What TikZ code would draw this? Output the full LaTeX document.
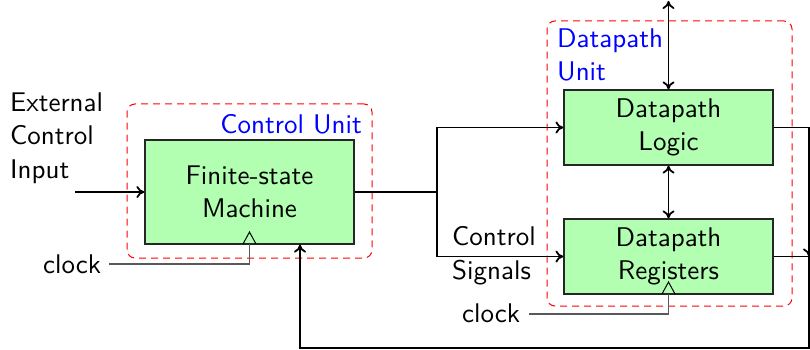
\documentclass[tikz,border=0pt]{standalone}
\usepackage{fontspec}
\setsansfont{lmsans10-regular.otf}
\usetikzlibrary{arrows.meta}
\begin{document}
\begin{tikzpicture}[x=1pt,y=-1pt,
  >={Computer Modern Rightarrow[length=8pt,width=12pt]},
  every node/.style={font=\sffamily\fontsize{27}{33}\selectfont},
  block/.style={draw=black!85, line width=1.2pt, fill=green!30, minimum width=209pt, align=center, inner sep=0pt},
  unit/.style={draw=red, dash pattern=on 7pt off 5pt, line width=1pt, rounded corners=8pt, inner sep=0pt},
  wire/.style={line width=1.8pt, ->},
  dwire/.style={line width=1.8pt, <->},
  clk/.style={draw=black!65, line width=1.2pt},
  lbl/.style={inner sep=0pt, align=left}
]
\useasboundingbox (0,0) rectangle (810,350);

% containers
\node[unit, minimum width=245pt, minimum height=154pt] (cu) at (249.5,181) {};
\node[unit, minimum width=245pt, minimum height=285pt] (du) at (669.5,163.5) {};
\node[lbl, text=blue, anchor=base east] (cul) at (362,133) {Control Unit};
\node[lbl, text=blue, anchor=base west] (dul) at (557,48) {Datapath};
\node[lbl, text=blue, anchor=base west] (dul2) at (557,81) {Unit};

% blocks
\node[block, minimum height=104pt] (fsm) at (249.5,192) {Finite-state\\Machine};
\node[block, minimum height=75pt] (dl) at (668.5,127.5) {Datapath\\Logic};
\node[block, minimum height=75pt] (dr) at (668.5,256.5) {Datapath\\Registers};

% labels
\node[lbl, anchor=base west] (ext1) at (10,111) {External};
\node[lbl, anchor=base west] (ext2) at (10,144.5) {Control};
\node[lbl, anchor=base west] (ext3) at (10,178) {Input};
\node[lbl, anchor=base west] (cs1) at (452,245) {Control};
\node[lbl, anchor=base west] (cs2) at (452,279) {Signals};
\node[lbl, anchor=base west] (clk1) at (43,273) {clock};
\node[lbl, anchor=base west] (clk2) at (462,322) {clock};

% coordinates
\coordinate (extin) at (75,192);
\coordinate (split) at (437,192);
\coordinate (top) at (668.5,1);
\coordinate (re) at (809,127.5);
\coordinate (rr) at (809,256.5);
\coordinate (rb) at (809,348);
\coordinate (fb) at (300,348);
\coordinate (c1) at (109,264);
\coordinate (c2) at (529,314);

% wires
\draw[wire] (extin) -- (fsm.west);
\draw[line width=1.8pt] (fsm.east) -- (split);
\draw[wire] (split) |- (dl.west);
\draw[wire] (split) |- (dr.west);
\draw[dwire] (top) -- (dl.north);
\draw[dwire] (dl.south) -- (dr.north);
\draw[wire] (dl.east) -- (re) -- (rr);
\draw[wire] (dr.east) -- (rr) -- (rb) -- (fb) -- (fb |- fsm.south);

% clocks
\draw[clk] (c1) -- (249.5,264) -- (249.5,244);
\draw[line width=1pt] (243,244) -- (249.5,232) -- (256,244);
\draw[clk] (c2) -- (668.5,314) -- (668.5,294);
\draw[line width=1pt] (662,294) -- (668.5,282) -- (675,294);
\end{tikzpicture}
\end{document}
